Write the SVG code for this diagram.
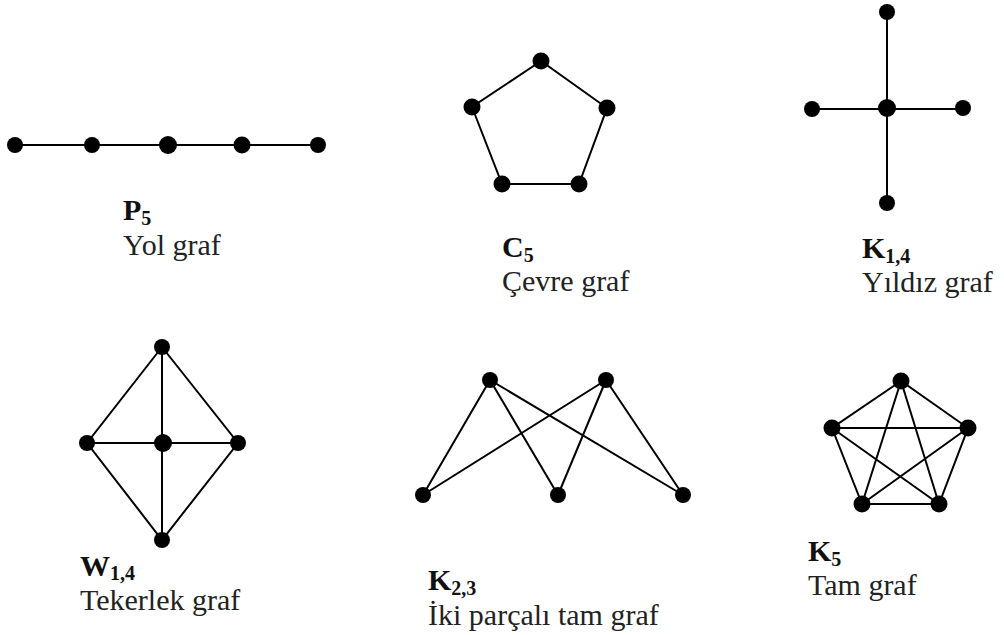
<svg xmlns="http://www.w3.org/2000/svg" width="1004" height="635" viewBox="0 0 1004 635">
<style>
.e{stroke:#000;stroke-width:2;fill:none}
.n{fill:#000}
.t{font-family:'Liberation Serif','Times New Roman','DejaVu Serif',serif;font-size:30px;fill:#222}
.b{font-family:'Liberation Serif','Times New Roman','DejaVu Serif',serif;font-size:30px;font-weight:bold;fill:#111}
.s{font-size:20px}
</style>
<rect width="1004" height="635" fill="#fff"/>
<g id="connectors">
<path class="e" d="M15 145H318"/>
<path class="e" d="M541 61L472 107L502 184L579 184L607 108Z"/>
<path class="e" d="M887 12V203M812 109H963"/>
<path class="e" d="M162 347L87 443L162 540L238 443Z M162 347V540 M87 443H238"/>
<path class="e" d="M490 380L423 495M490 380L558 495M490 380L683 495M606 380L423 495M606 380L558 495M606 380L683 495"/>
<path class="e" d="M901 381L832 428L862 504L939 504L968 428Z M901 381L862 504M901 381L939 504M832 428L968 428M832 428L939 504M968 428L862 504"/>
</g>
<g id="P5">
<circle class="n" cx="15" cy="145" r="8"/>
<circle class="n" cx="92" cy="145" r="8"/>
<circle class="n" cx="168" cy="145" r="9"/>
<circle class="n" cx="242" cy="145" r="8.5"/>
<circle class="n" cx="318" cy="145" r="8"/>
<text class="b" x="123" y="220" font-family="Liberation Serif, serif">P<tspan class="s" dy="5">5</tspan></text>
<text class="t" x="123" y="255" font-family="Liberation Serif, serif">Yol graf</text>
</g>
<g id="C5">
<circle class="n" cx="541" cy="61" r="8.5"/>
<circle class="n" cx="472" cy="107" r="8.5"/>
<circle class="n" cx="607" cy="108" r="8.5"/>
<circle class="n" cx="502" cy="184" r="8.5"/>
<circle class="n" cx="579" cy="184" r="8.5"/>
<text class="b" x="502" y="257" font-family="Liberation Serif, serif">C<tspan class="s" dy="5">5</tspan></text>
<text class="t" x="502" y="291" font-family="Liberation Serif, serif">Çevre graf</text>
</g>
<g id="K14">
<circle class="n" cx="887" cy="12" r="8"/>
<circle class="n" cx="887" cy="108" r="9"/>
<circle class="n" cx="812" cy="109" r="8"/>
<circle class="n" cx="963" cy="108" r="8"/>
<circle class="n" cx="887" cy="203" r="8"/>
<text class="b" x="862" y="258" font-family="Liberation Serif, serif">K<tspan class="s" dy="5">1,4</tspan></text>
<text class="t" x="862" y="292" font-family="Liberation Serif, serif">Yıldız graf</text>
</g>
<g id="W14">
<circle class="n" cx="162" cy="347" r="8"/>
<circle class="n" cx="87" cy="443" r="8"/>
<circle class="n" cx="163" cy="443" r="9"/>
<circle class="n" cx="238" cy="443" r="8"/>
<circle class="n" cx="162" cy="540" r="8"/>
<text class="b" x="80" y="576" font-family="Liberation Serif, serif">W<tspan class="s" dy="4">1,4</tspan></text>
<text class="t" x="80" y="610" font-family="Liberation Serif, serif">Tekerlek graf</text>
</g>
<g id="K23">
<circle class="n" cx="490" cy="380" r="8"/>
<circle class="n" cx="606" cy="380" r="8"/>
<circle class="n" cx="423" cy="495" r="8"/>
<circle class="n" cx="558" cy="495" r="8"/>
<circle class="n" cx="683" cy="495" r="8"/>
<text class="b" x="428" y="590" font-family="Liberation Serif, serif">K<tspan class="s" dy="5">2,3</tspan></text>
<text class="t" x="428" y="625" font-family="Liberation Serif, serif">İki parçalı tam graf</text>
</g>
<g id="K5">
<circle class="n" cx="901" cy="381" r="8.5"/>
<circle class="n" cx="832" cy="428" r="8.5"/>
<circle class="n" cx="968" cy="428" r="8.5"/>
<circle class="n" cx="862" cy="504" r="8.5"/>
<circle class="n" cx="939" cy="504" r="8.5"/>
<text class="b" x="808" y="561" font-family="Liberation Serif, serif">K<tspan class="s" dy="5">5</tspan></text>
<text class="t" x="808" y="595" font-family="Liberation Serif, serif">Tam graf</text>
</g>
</svg>
